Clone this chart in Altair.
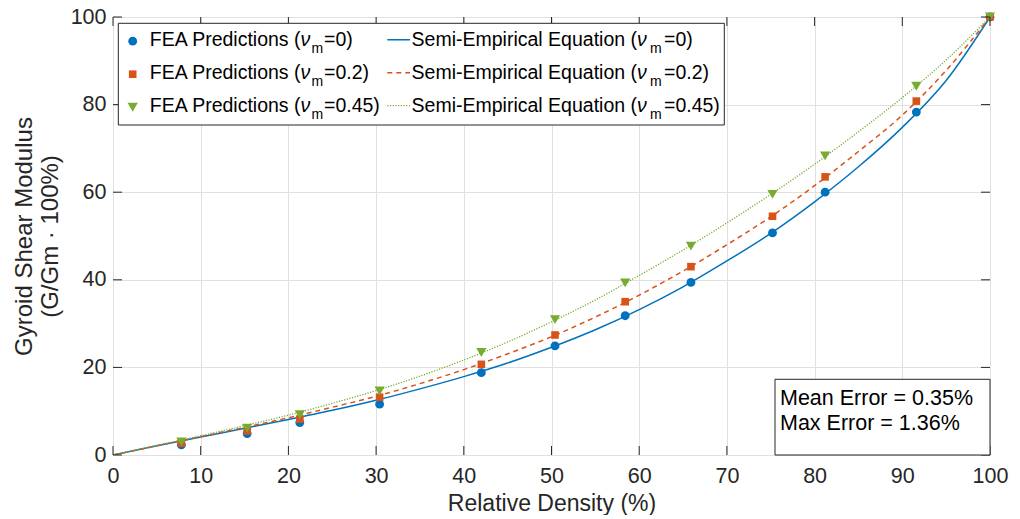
import altair as alt
import pandas as pd

FONT = "Liberation Sans"
INK = "#262626"
BLUE, ORANGE, GREEN = "#0072BD", "#D95319", "#77AC30"

# ---- data ----
density = [7.8, 15.3, 21.3, 30.4, 42.0, 50.4, 58.4, 65.9, 75.2, 81.2, 91.6, 100.0]
fea_nu0 = [2.3, 4.9, 7.4, 11.6, 18.8, 24.9, 31.8, 39.4, 50.7, 60.0, 78.3, 100.0]
fea_nu02 = [2.7, 5.5, 8.2, 13.2, 20.7, 27.4, 35.0, 43.0, 54.5, 63.5, 80.8, 100.0]
fea_nu045 = [3.0, 6.1, 9.2, 14.6, 23.4, 30.9, 39.3, 47.7, 59.5, 68.3, 84.2, 100.0]

curve_x = [0, 5, 10, 15, 20, 25, 30, 35, 40, 45, 50, 55, 60, 65, 70, 75, 80, 85, 90, 95, 100]
semi_nu0 = [0, 2.1, 4.1, 6.1, 8.1, 10.2, 12.5, 15.1, 17.9, 21.0, 24.6, 28.6, 33.2, 38.4, 44.3, 50.6, 57.8, 65.8, 74.8, 85.5, 100]
semi_nu02 = [0, 2.1, 4.2, 6.3, 8.5, 10.9, 13.4, 16.3, 19.5, 23.1, 27.0, 31.5, 36.5, 42.0, 48.0, 54.4, 61.5, 69.3, 77.6, 87.8, 100]
semi_nu045 = [0, 2.2, 4.4, 6.7, 9.1, 11.8, 14.7, 18.0, 21.7, 25.8, 30.4, 35.4, 41.0, 46.8, 53.0, 59.5, 66.4, 73.8, 81.6, 90.2, 100]

nu_labels = ["0", "0.2", "0.45"]
x_ticks = [0, 10, 20, 30, 40, 50, 60, 70, 80, 90, 100]
y_ticks = [0, 20, 40, 60, 80, 100]
stats_lines = ["Mean Error = 0.35%", "Max Error = 1.36%"]

W, H = 877, 438

xs = alt.Scale(domain=[0, 100], nice=False)
ys = alt.Scale(domain=[0, 100], nice=False)

x_axis = alt.Axis(values=x_ticks, title="Relative Density (%)", grid=True, gridColor="#e0e0e0",
                  domain=False, ticks=False, labelPadding=10, labelFontSize=21.5, titleFontSize=23,
                  titleY=55, titleBaseline="alphabetic", labelColor=INK, titleColor=INK,
                  titleFontWeight="normal", labelFont=FONT, titleFont=FONT, labelFlush=False,
                  labelOverlap=False)
y_axis = alt.Axis(values=y_ticks, title=["Gyroid Shear Modulus", "(G/Gm · 100%)"], grid=True,
                  gridColor="#e0e0e0", domain=False, ticks=False, labelPadding=7, labelFontSize=21.5,
                  titleFontSize=24, titleX=-81.3, titleBaseline="alphabetic", titleLineHeight=26,
                  labelColor=INK, titleColor=INK, titleFontWeight="normal", labelFont=FONT,
                  titleFont=FONT, labelFlush=False, labelOverlap=False)

layers = []

# curves
curve_df = pd.DataFrame({"x": curve_x, "a": semi_nu0, "b": semi_nu02, "c": semi_nu045})
base_curve = alt.Chart(curve_df)
layers.append(base_curve.mark_line(color=BLUE, strokeWidth=1.5, interpolate="monotone", clip=True).encode(
    x=alt.X("x:Q", scale=xs, axis=x_axis), y=alt.Y("a:Q", scale=ys, axis=y_axis)))
layers.append(base_curve.mark_line(color=ORANGE, strokeWidth=1.5, strokeDash=[5, 4], interpolate="monotone", clip=True).encode(
    x=alt.X("x:Q", scale=xs), y=alt.Y("b:Q", scale=ys)))
layers.append(base_curve.mark_line(color=GREEN, strokeWidth=1.3, strokeDash=[1.2, 1.5], interpolate="monotone", clip=True).encode(
    x=alt.X("x:Q", scale=xs), y=alt.Y("c:Q", scale=ys)))

# FEA points
pts_df = pd.DataFrame({"x": density, "a": fea_nu0, "b": fea_nu02, "c": fea_nu045})
base_pts = alt.Chart(pts_df)
layers.append(base_pts.mark_point(shape="circle", filled=True, color=BLUE, size=78, opacity=1).encode(
    x=alt.X("x:Q", scale=xs), y=alt.Y("a:Q", scale=ys)))
layers.append(base_pts.mark_point(shape="square", filled=True, color=ORANGE, size=58, opacity=1).encode(
    x=alt.X("x:Q", scale=xs), y=alt.Y("b:Q", scale=ys)))
layers.append(base_pts.mark_point(shape="triangle-down", filled=True, color=GREEN, size=105, opacity=1).encode(
    x=alt.X("x:Q", scale=xs), y=alt.Y("c:Q", scale=ys)))

one = alt.Chart(pd.DataFrame({"k": [0]}))

# inward ticks (box on)
tx = alt.Chart(pd.DataFrame({"t": x_ticks}))
ty = alt.Chart(pd.DataFrame({"t": y_ticks}))
layers.append(tx.mark_rule(color=INK, strokeWidth=1).encode(x=alt.X("t:Q", scale=xs), y=alt.value(H), y2=alt.value(H - 9)))
layers.append(tx.mark_rule(color=INK, strokeWidth=1).encode(x=alt.X("t:Q", scale=xs), y=alt.value(0), y2=alt.value(9)))
layers.append(ty.mark_rule(color=INK, strokeWidth=1).encode(y=alt.Y("t:Q", scale=ys), x=alt.value(0), x2=alt.value(9)))
layers.append(ty.mark_rule(color=INK, strokeWidth=1).encode(y=alt.Y("t:Q", scale=ys), x=alt.value(W), x2=alt.value(W - 9)))

# legend box
layers.append(one.mark_rect(fill="white", stroke=INK, strokeWidth=1).encode(
    x=alt.value(5.3), x2=alt.value(611.3), y=alt.value(6.3), y2=alt.value(108)))

colors = [BLUE, ORANGE, GREEN]
shapes = ["circle", "square", "triangle-down"]
sizes = [78, 58, 105]
dashes = [[1, 0], [5, 4], [1.2, 1.5]]
widths = [1.5, 1.5, 1.3]
LFS = 19.5
for i, nu in enumerate(nu_labels):
    yb = 28.7 + 33 * i
    layers.append(one.mark_point(shape=shapes[i], filled=True, color=colors[i], size=sizes[i], opacity=1).encode(
        x=alt.value(19.7), y=alt.value(yb - 4.5)))
    layers.append(one.mark_rule(color=colors[i], strokeWidth=widths[i], strokeDash=dashes[i]).encode(
        x=alt.value(274.3), x2=alt.value(297), y=alt.value(yb - 6)))
    for (label, xnu, xm, xc) in [("FEA Predictions (", 187.5, 198.5, 211),
                                 ("Semi-Empirical Equation (", 524, 537, 551)]:
        layers.append(one.mark_text(text=label, align="right", baseline="alphabetic", font=FONT,
                                    fontSize=LFS, color="black").encode(x=alt.value(xnu), y=alt.value(yb)))
        layers.append(one.mark_text(text="ν", align="left", baseline="alphabetic", font=FONT,
                                    fontSize=LFS, fontStyle="italic", color="black").encode(x=alt.value(xnu), y=alt.value(yb)))
        layers.append(one.mark_text(text="m", align="left", baseline="alphabetic", font=FONT,
                                    fontSize=14, color="black").encode(x=alt.value(xm), y=alt.value(yb + 7.6)))
        layers.append(one.mark_text(text="=" + nu + ")", align="left", baseline="alphabetic", font=FONT,
                                    fontSize=LFS, color="black").encode(x=alt.value(xc), y=alt.value(yb)))

# error annotation box
layers.append(one.mark_rect(fill="white", stroke=INK, strokeWidth=1).encode(
    x=alt.value(662), x2=alt.value(W), y=alt.value(362.3), y2=alt.value(H)))
for j, s in enumerate(stats_lines):
    layers.append(one.mark_text(text=s, align="left", baseline="alphabetic", font=FONT,
                                fontSize=21.5, color="black").encode(x=alt.value(667), y=alt.value(388 + 25 * j)))

chart = alt.layer(*layers).properties(
    width=W, height=H,
    autosize=alt.AutoSizeParams(type="none"),
    padding={"left": 105, "top": 9, "right": 22, "bottom": 60},
).configure_view(stroke=INK, strokeWidth=1).configure(background="white")

chart.save("out.html", embed_options={"renderer": "svg", "actions": False})
